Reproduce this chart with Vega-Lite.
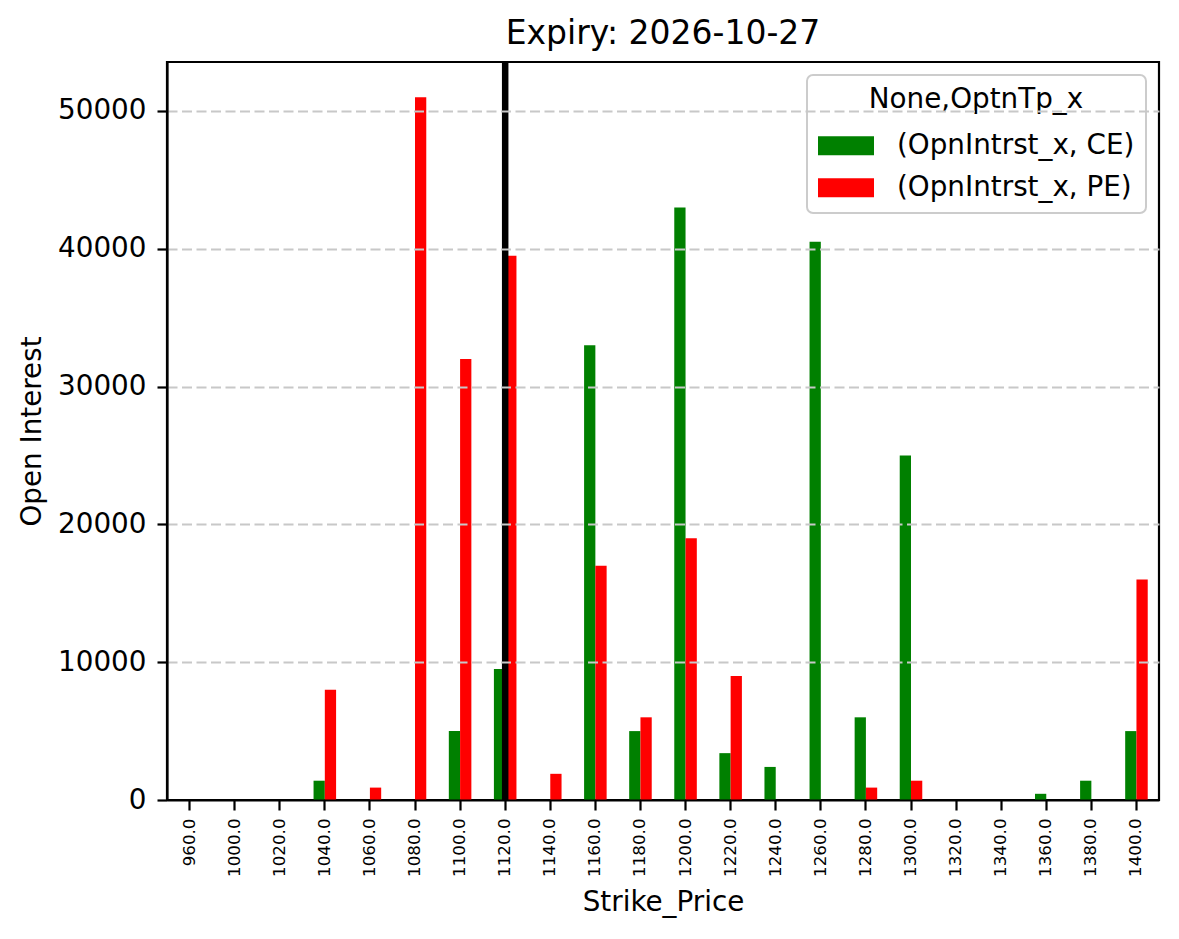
{
  "$schema": "https://vega.github.io/schema/vega-lite/v6.json",
  "width": 992,
  "height": 738,
  "autosize": {"type": "none"},
  "padding": {"left": 167, "top": 62, "right": 20, "bottom": 139},
  "title": {
    "text": "Expiry: 2026-10-27",
    "fontSize": 33,
    "fontWeight": "normal",
    "color": "black",
    "offset": 8
  },
  "config": {
    "font": "DejaVu Sans",
    "view": {"stroke": "black", "strokeWidth": 2.2},
    "axis": {
      "domainColor": "black",
      "domainWidth": 2.2,
      "tickColor": "black",
      "tickWidth": 2.2,
      "tickSize": 10,
      "labelColor": "black",
      "titleColor": "black",
      "titleFontWeight": "normal",
      "titleFontSize": 27.8
    },
    "legend": {
      "orient": "top-right",
      "offset": 13,
      "fillColor": "white",
      "strokeColor": "#cccccc",
      "strokeWidth": 2,
      "cornerRadius": 6,
      "padding": 11,
      "titleFontSize": 27.8,
      "titleFontWeight": "normal",
      "titleColor": "black",
      "titleAnchor": "middle",
      "titleLimit": 600,
      "titlePadding": 4,
      "labelFontSize": 27.8,
      "labelColor": "black",
      "labelLimit": 600,
      "labelOffset": 23,
      "symbolType": "M-1,-0.34H1V0.34H-1Z",
      "symbolSize": 3136,
      "symbolStrokeWidth": 0,
      "symbolOpacity": 1,
      "rowPadding": 0
    }
  },
  "layer": [
    {
      "data": {
        "values": [
          {"Strike_Price": "960.0", "series": "(OpnIntrst_x, CE)", "oi": 0},
          {"Strike_Price": "960.0", "series": "(OpnIntrst_x, PE)", "oi": 0},
          {"Strike_Price": "1000.0", "series": "(OpnIntrst_x, CE)", "oi": 0},
          {"Strike_Price": "1000.0", "series": "(OpnIntrst_x, PE)", "oi": 0},
          {"Strike_Price": "1020.0", "series": "(OpnIntrst_x, CE)", "oi": 0},
          {"Strike_Price": "1020.0", "series": "(OpnIntrst_x, PE)", "oi": 0},
          {"Strike_Price": "1040.0", "series": "(OpnIntrst_x, CE)", "oi": 1400},
          {"Strike_Price": "1040.0", "series": "(OpnIntrst_x, PE)", "oi": 8000},
          {"Strike_Price": "1060.0", "series": "(OpnIntrst_x, CE)", "oi": 0},
          {"Strike_Price": "1060.0", "series": "(OpnIntrst_x, PE)", "oi": 900},
          {"Strike_Price": "1080.0", "series": "(OpnIntrst_x, CE)", "oi": 0},
          {"Strike_Price": "1080.0", "series": "(OpnIntrst_x, PE)", "oi": 51000},
          {"Strike_Price": "1100.0", "series": "(OpnIntrst_x, CE)", "oi": 5000},
          {"Strike_Price": "1100.0", "series": "(OpnIntrst_x, PE)", "oi": 32000},
          {"Strike_Price": "1120.0", "series": "(OpnIntrst_x, CE)", "oi": 9500},
          {"Strike_Price": "1120.0", "series": "(OpnIntrst_x, PE)", "oi": 39500},
          {"Strike_Price": "1140.0", "series": "(OpnIntrst_x, CE)", "oi": 0},
          {"Strike_Price": "1140.0", "series": "(OpnIntrst_x, PE)", "oi": 1900},
          {"Strike_Price": "1160.0", "series": "(OpnIntrst_x, CE)", "oi": 33000},
          {"Strike_Price": "1160.0", "series": "(OpnIntrst_x, PE)", "oi": 17000},
          {"Strike_Price": "1180.0", "series": "(OpnIntrst_x, CE)", "oi": 5000},
          {"Strike_Price": "1180.0", "series": "(OpnIntrst_x, PE)", "oi": 6000},
          {"Strike_Price": "1200.0", "series": "(OpnIntrst_x, CE)", "oi": 43000},
          {"Strike_Price": "1200.0", "series": "(OpnIntrst_x, PE)", "oi": 19000},
          {"Strike_Price": "1220.0", "series": "(OpnIntrst_x, CE)", "oi": 3400},
          {"Strike_Price": "1220.0", "series": "(OpnIntrst_x, PE)", "oi": 9000},
          {"Strike_Price": "1240.0", "series": "(OpnIntrst_x, CE)", "oi": 2400},
          {"Strike_Price": "1240.0", "series": "(OpnIntrst_x, PE)", "oi": 0},
          {"Strike_Price": "1260.0", "series": "(OpnIntrst_x, CE)", "oi": 40500},
          {"Strike_Price": "1260.0", "series": "(OpnIntrst_x, PE)", "oi": 0},
          {"Strike_Price": "1280.0", "series": "(OpnIntrst_x, CE)", "oi": 6000},
          {"Strike_Price": "1280.0", "series": "(OpnIntrst_x, PE)", "oi": 900},
          {"Strike_Price": "1300.0", "series": "(OpnIntrst_x, CE)", "oi": 25000},
          {"Strike_Price": "1300.0", "series": "(OpnIntrst_x, PE)", "oi": 1400},
          {"Strike_Price": "1320.0", "series": "(OpnIntrst_x, CE)", "oi": 0},
          {"Strike_Price": "1320.0", "series": "(OpnIntrst_x, PE)", "oi": 0},
          {"Strike_Price": "1340.0", "series": "(OpnIntrst_x, CE)", "oi": 0},
          {"Strike_Price": "1340.0", "series": "(OpnIntrst_x, PE)", "oi": 0},
          {"Strike_Price": "1360.0", "series": "(OpnIntrst_x, CE)", "oi": 450},
          {"Strike_Price": "1360.0", "series": "(OpnIntrst_x, PE)", "oi": 0},
          {"Strike_Price": "1380.0", "series": "(OpnIntrst_x, CE)", "oi": 1400},
          {"Strike_Price": "1380.0", "series": "(OpnIntrst_x, PE)", "oi": 0},
          {"Strike_Price": "1400.0", "series": "(OpnIntrst_x, CE)", "oi": 5000},
          {"Strike_Price": "1400.0", "series": "(OpnIntrst_x, PE)", "oi": 16000}
        ]
      },
      "mark": {"type": "bar"},
      "encoding": {
        "x": {
          "field": "Strike_Price",
          "type": "nominal",
          "sort": null,
          "scale": {"paddingInner": 0.5, "paddingOuter": 0.25},
          "axis": {
            "title": "Strike_Price",
            "labelAngle": -90,
            "labelFontSize": 16.7,
            "labelPadding": 8,
            "titlePadding": 12,
            "zindex": 1
          }
        },
        "xOffset": {
          "field": "series",
          "type": "nominal",
          "scale": {"paddingInner": 0, "paddingOuter": 0}
        },
        "y": {
          "field": "oi",
          "type": "quantitative",
          "scale": {"domain": [0, 53550], "nice": false},
          "axis": {
            "title": "Open Interest",
            "values": [0, 10000, 20000, 30000, 40000, 50000],
            "format": "d",
            "labelFontSize": 27.8,
            "labelPadding": 11,
            "titlePadding": 11,
            "grid": true,
            "gridColor": "#c8c8c8",
            "gridWidth": 2,
            "gridDash": [10, 4.5],
            "gridOpacity": {"condition": {"test": "datum.value === 0", "value": 0}, "value": 1},
            "zindex": 1
          }
        },
        "color": {
          "field": "series",
          "type": "nominal",
          "title": "None,OptnTp_x",
          "scale": {
            "domain": ["(OpnIntrst_x, CE)", "(OpnIntrst_x, PE)"],
            "range": ["#008000", "#ff0000"]
          }
        }
      }
    },
    {
      "data": {"values": [{"Strike_Price": "1120.0"}]},
      "mark": {"type": "rule", "color": "black", "strokeWidth": 6.5},
      "encoding": {
        "x": {"field": "Strike_Price", "type": "nominal", "sort": null}
      }
    }
  ]
}
